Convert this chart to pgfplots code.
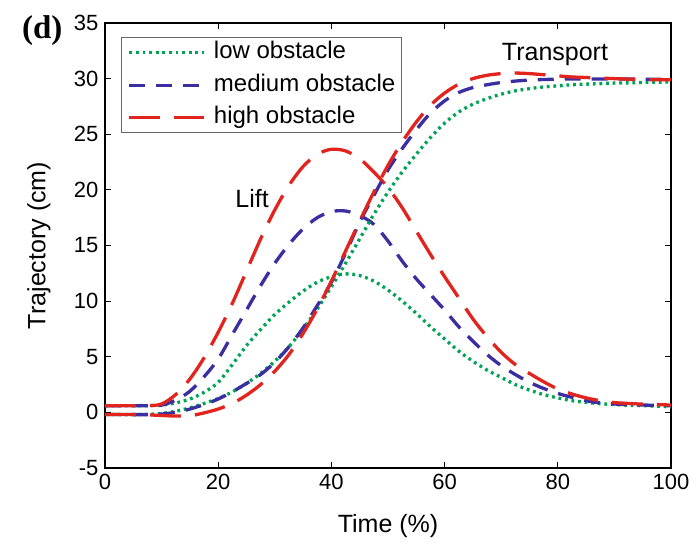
\documentclass[border=0pt]{standalone}
\usepackage{pgfplots}
\pgfplotsset{compat=1.18}
\usepackage{fontspec}
\setmainfont{Liberation Sans}
\newfontfamily\panelfont{Liberation Serif}

\definecolor{lowc}{RGB}{0,163,84}
\definecolor{medc}{RGB}{58,46,160}
\definecolor{highc}{RGB}{226,36,30}

\begin{document}
\begin{tikzpicture}
\begin{axis}[
  scale only axis,
  width=566pt, height=445pt,
  xmin=0, xmax=100, ymin=-5, ymax=35,
  xtick={0,20,...,100},
  ytick={-5,0,...,35},
  tick align=inside,
  major tick length=6pt,
  every tick/.style={black, line width=1.1pt},
  axis line style={black, line width=1.5pt},
  /pgf/number format/assume math mode=true,
  ticklabel style={font=\fontsize{22}{26}\selectfont},
  xticklabel style={yshift=-3pt},
  yticklabel style={xshift=-3pt},
  xlabel={Time (\%)},
  ylabel={Trajectory (cm)},
  label style={font=\fontsize{25}{30}\selectfont},
  xlabel style={at={(axis description cs:0.5,-0.1303)}, anchor=center},
  ylabel style={at={(axis description cs:-0.1166,0.5)}, anchor=center},
  clip mode=individual,
  legend style={
    at={(axis description cs:0.0283,0.9685)}, anchor=north west,
    draw=black!60, line width=1.3pt,
    font=\fontsize{24}{28}\selectfont,
    inner xsep=6pt, inner ysep=4pt,
    nodes={inner sep=0pt, text height=17pt, text depth=5pt},
    row sep=10.5pt, column sep=8pt,
  },
  legend cell align=left,
  legend image code/.code={\draw[#1] (0pt,0pt) -- (75pt,0pt);},
]

% lift (vertical) trajectories
\addplot[lowc, line width=3.3pt, dash pattern=on 2.8pt off 3.8pt, smooth] coordinates {
(0,0.6) (2.5,0.6) (5,0.6) (7.5,0.6) (10,0.65) (12.5,0.85) (15,1.2) (17.5,1.8)
(20,2.7) (22.5,4.3) (25,6.0) (27.5,7.45) (30,8.8) (32.5,9.9) (35,10.9) (37.5,11.7)
(40,12.2) (42.5,12.45) (45,12.3) (47.5,11.8) (50,11.0) (52.5,10.0) (55,8.9) (57.5,7.7)
(60,6.6) (62.5,5.5) (65,4.6) (67.5,3.8) (70,3.15) (72.5,2.5) (75,2.0) (77.5,1.6)
(80,1.3) (82.5,1.05) (85,0.9) (87.5,0.78) (90,0.7) (92.5,0.64) (95,0.6) (97.5,0.55) (100,0.5)
};
\addlegendentry{low obstacle}

\addplot[medc, line width=3.3pt, dash pattern=on 16pt off 11pt, smooth] coordinates {
(0,0.6) (2.5,0.6) (5,0.6) (7.5,0.6) (10,0.65) (12.5,1.1) (15,1.9) (17.5,3.2)
(20,4.8) (22.5,7.0) (25,9.2) (27.5,11.4) (30,13.4) (32.5,15.1) (35,16.5) (37.5,17.5)
(40,18.05) (42.5,18.1) (45,17.7) (47.5,16.9) (50,15.4) (52.5,13.6) (55,12.0) (57.5,10.6)
(60,9.2) (62.5,7.7) (65,6.4) (67.5,5.2) (70,4.2) (72.5,3.4) (75,2.7) (77.5,2.15)
(80,1.7) (82.5,1.35) (85,1.05) (87.5,0.85) (90,0.75) (92.5,0.7) (95,0.66) (97.5,0.63) (100,0.6)
};
\addlegendentry{medium obstacle}

\addplot[highc, line width=3.3pt, dash pattern=on 31pt off 14pt, smooth] coordinates {
(0,0.6) (2.5,0.6) (5,0.6) (7.5,0.6) (10,0.75) (12.5,1.6) (15,3.0) (17.5,4.9)
(20,7.2) (22.5,9.8) (25,12.7) (27.5,15.6) (30,18.2) (32.5,20.4) (35,22.1) (37.5,23.2)
(40,23.65) (42.5,23.5) (45,22.8) (47.5,21.6) (50,20.2) (52.5,18.4) (55,16.3) (57.5,14.2)
(60,12.2) (62.5,10.3) (65,8.4) (67.5,6.8) (70,5.4) (72.5,4.3) (75,3.5) (77.5,2.75)
(80,2.1) (82.5,1.65) (85,1.3) (87.5,1.05) (90,0.88) (92.5,0.8) (95,0.74) (97.5,0.7) (100,0.66)
};
\addlegendentry{high obstacle}

% transport (horizontal) trajectories
\addplot[lowc, line width=3.3pt, dash pattern=on 2.8pt off 3.8pt, smooth, forget plot] coordinates {
(0,-0.2) (2.5,-0.2) (5,-0.2) (7.5,-0.18) (10,-0.1) (12.5,0.1) (15,0.4) (17.5,0.8)
(20,1.25) (22.5,1.85) (25,2.6) (27.5,3.5) (30,4.6) (32.5,5.9) (35,7.5) (37.5,9.3)
(40,11.3) (42.5,13.4) (45,15.6) (47.5,17.8) (50,19.8) (52.5,21.6) (55,23.2) (57.5,24.7)
(60,26.0) (62.5,27.0) (65,27.7) (67.5,28.2) (70,28.6) (72.5,28.9) (75,29.1) (77.5,29.25)
(80,29.35) (82.5,29.45) (85,29.5) (87.5,29.55) (90,29.6) (92.5,29.62) (95,29.65) (97.5,29.68) (100,29.7)
};

\addplot[medc, line width=3.3pt, dash pattern=on 16pt off 11pt, smooth, forget plot] coordinates {
(0,-0.2) (2.5,-0.2) (5,-0.2) (7.5,-0.2) (10,-0.15) (12.5,0.0) (15,0.3) (17.5,0.7)
(20,1.2) (22.5,1.85) (25,2.6) (27.5,3.4) (30,4.5) (32.5,5.9) (35,7.6) (37.5,9.6)
(40,11.7) (42.5,14.3) (45,17.1) (47.5,19.5) (50,21.8) (52.5,23.7) (55,25.4) (57.5,26.9)
(60,28.0) (62.5,28.75) (65,29.2) (67.5,29.45) (70,29.65) (72.5,29.78) (75,29.87) (77.5,29.92)
(80,29.95) (82.5,29.97) (85,29.97) (87.5,29.97) (90,29.96) (92.5,29.96) (95,29.95) (97.5,29.95) (100,29.95)
};

\addplot[highc, line width=3.3pt, dash pattern=on 31pt off 14pt, smooth, forget plot] coordinates {
(0,-0.2) (2.5,-0.2) (5,-0.2) (7.5,-0.22) (10,-0.28) (12.5,-0.33) (15,-0.3) (17.5,-0.05)
(20,0.3) (22.5,0.8) (25,1.55) (27.5,2.5) (30,3.7) (32.5,5.2) (35,7.1) (37.5,9.3)
(40,11.8) (42.5,14.5) (45,17.2) (47.5,19.8) (50,22.2) (52.5,24.3) (55,26.1) (57.5,27.6)
(60,28.7) (62.5,29.5) (65,30.0) (67.5,30.3) (70,30.45) (72.5,30.5) (75,30.45) (77.5,30.35)
(80,30.25) (82.5,30.15) (85,30.1) (87.5,30.05) (90,30.0) (92.5,29.95) (95,29.92) (97.5,29.9) (100,29.9)
};

\node[font=\fontsize{25}{30}\selectfont] at (axis cs:26,19.2) {Lift};
\node[font=\fontsize{25}{30}\selectfont] at (axis cs:79.5,32.2) {Transport};
\node[font=\panelfont\bfseries\fontsize{33}{38}\selectfont] at (axis description cs:-0.111,0.984) {(d)};
\end{axis}
\pgfresetboundingbox
\path[use as bounding box] (-105pt,-77pt) rectangle (590pt,468pt);
\end{tikzpicture}
\end{document}
